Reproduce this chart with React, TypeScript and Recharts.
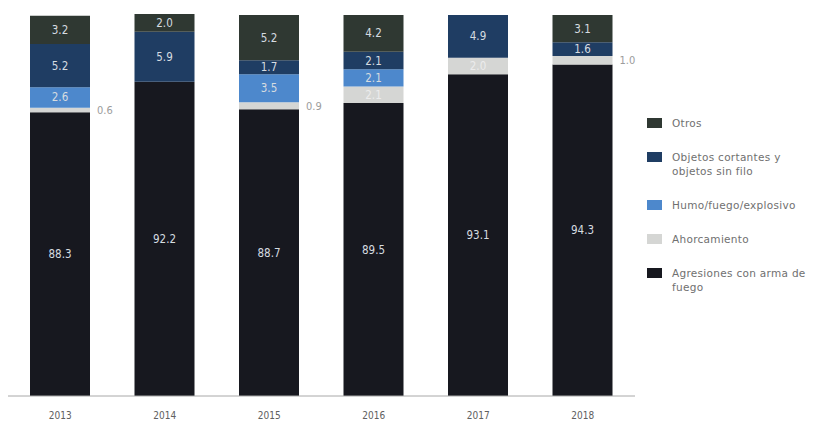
import React from "react";
import { BarChart, Bar, XAxis, YAxis, Legend, LabelList } from "recharts";

const years = ["2013", "2014", "2015", "2016", "2017", "2018"];
const armaFuego = [88.3, 92.2, 88.7, 89.5, 93.1, 94.3];
const ahorcamiento = [0.6, 0, 0.9, 2.1, 2.0, 1.0];
const humoFuego = [2.6, 0, 3.5, 2.1, 0, 0];
const objetos = [5.2, 5.9, 1.7, 2.1, 4.9, 1.6];
const otros = [3.2, 2.0, 5.2, 4.2, 0, 3.1];

const data = years.map((y, i) => ({
  year: y,
  arma: armaFuego[i],
  ahorc: ahorcamiento[i],
  humo: humoFuego[i],
  obj: objetos[i],
  otros: otros[i],
}));

const series = [
  { key: "arma", name: "Agresiones con arma de fuego", color: "#17181f" },
  { key: "ahorc", name: "Ahorcamiento", color: "#d5d6d4" },
  { key: "humo", name: "Humo/fuego/explosivo", color: "#4d88cc" },
  { key: "obj", name: "Objetos cortantes y objetos sin filo", color: "#1f3d63" },
  { key: "otros", name: "Otros", color: "#2f3832" },
];

const FONT = "'Liberation Sans Narrow', 'DejaVu Sans Condensed', 'Liberation Sans', sans-serif";
const LEGEND_FONT = "'DejaVu Sans', 'Liberation Sans', sans-serif";

// power scale (the printed chart stretches the top of each column)
function makePowScale(k: number): any {
  let d = [0, 1];
  let r = [0, 1];
  const s: any = (v: number) => {
    const t = (v - d[0]) / (d[1] - d[0]);
    const p = Math.pow(Math.max(0, t), k);
    return r[0] + p * (r[1] - r[0]);
  };
  s.domain = (x?: number[]) => {
    if (x === undefined) return d.slice();
    d = [Number(x[0]), Number(x[x.length - 1])];
    return s;
  };
  s.range = (x?: number[]) => {
    if (x === undefined) return r.slice();
    r = [Number(x[0]), Number(x[x.length - 1])];
    return s;
  };
  s.invert = (y: number) => {
    const p = (y - r[0]) / (r[1] - r[0]);
    return d[0] + Math.pow(Math.max(0, p), 1 / k) * (d[1] - d[0]);
  };
  s.ticks = (n = 5) => {
    const out: number[] = [];
    const step = (d[1] - d[0]) / n;
    for (let i = 0; i <= n; i++) out.push(d[0] + i * step);
    return out;
  };
  s.tickFormat = () => (v: number) => String(v);
  s.nice = () => s;
  s.clamp = () => s;
  s.copy = () => makePowScale(k).domain(d).range(r);
  return s;
}

const yScale = makePowScale(2.37);

const makeLabel = (key: string) => (props: any) => {
  const { x, y, width, height, value } = props;
  if (!value) return null;
  const txt = Number(value).toFixed(1);
  if (key === "ahorc" && value < 1.5) {
    return (
      <text x={x + width + 7} y={y + height / 2} dy={4} fill="#9c9c9c" fontSize={11} fontFamily={FONT}>
        {txt}
      </text>
    );
  }
  const fill = key === "ahorc" ? "#ececec" : "#d6dce0";
  return (
    <text x={x + width / 2} y={y + height / 2} dy={4} textAnchor="middle" fill={fill} fontSize={11.5} fontFamily={FONT}>
      {txt}
    </text>
  );
};

const LegendContent = () => {
  const items = [...series].reverse();
  return (
    <div style={{ fontFamily: LEGEND_FONT, fontSize: 10.5, color: "#707070", letterSpacing: 0.3 }}>
      {items.map((s) => (
        <div key={s.key} style={{ display: "flex", alignItems: "flex-start", marginBottom: 20 }}>
          <div style={{ width: 15, height: 10, background: s.color, marginRight: 10, marginTop: 2, flexShrink: 0 }} />
          <div style={{ width: 146, lineHeight: "14px" }}>{s.name}</div>
        </div>
      ))}
    </div>
  );
};

export default function App() {
  return (
    <div style={{ position: "absolute", left: 0, top: 0, background: "#ffffff" }}>
      <BarChart
        width={820}
        height={428}
        data={data}
        margin={{ top: 14, right: 185, bottom: 2, left: 8 }}
        barSize={60}
      >
        <XAxis
          dataKey="year"
          axisLine={{ stroke: "#a8a8a8" }}
          tickLine={false}
          tick={{ fill: "#606060", fontSize: 10, fontFamily: FONT }}
          tickMargin={10}
        />
        <YAxis hide domain={[0, 100]} scale={yScale} />
        <Legend
          layout="horizontal"
          verticalAlign="middle"
          content={<LegendContent />}
          wrapperStyle={{ position: "absolute", left: 647, top: 116, width: 172 }}
        />
        {series.map((s) => (
          <Bar key={s.key} dataKey={s.key} name={s.name} stackId="a" fill={s.color} isAnimationActive={false}>
            <LabelList dataKey={s.key} content={makeLabel(s.key)} />
          </Bar>
        ))}
      </BarChart>
    </div>
  );
}
